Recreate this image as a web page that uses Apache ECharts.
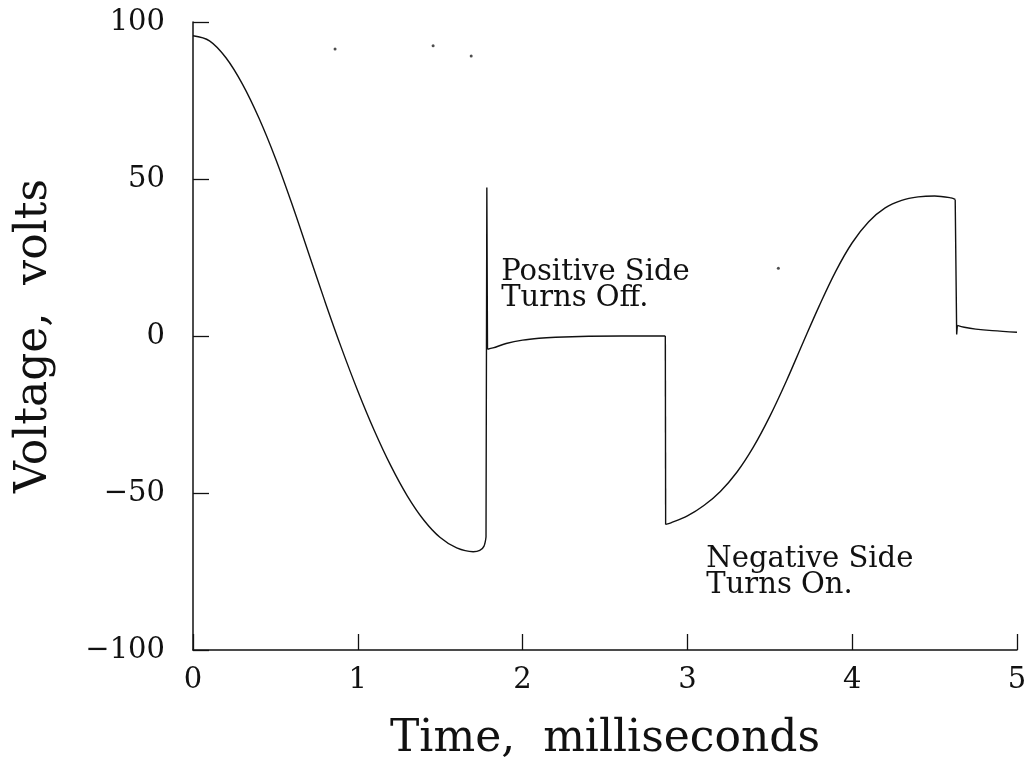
<!DOCTYPE html>
<html>
<head>
<meta charset="utf-8">
<script src="https://cdn.jsdelivr.net/npm/echarts@6/dist/echarts.min.js"></script>
<style>
html,body{margin:0;padding:0;background:#fff;}
#chart{width:1029px;height:760px;}
</style>
</head>
<body>
<div id="chart"></div>
<script>
// Smooth parts of the voltage trace (time in ms, voltage in V)
const curve1Time = [0, 0.1, 0.2, 0.3, 0.4, 0.5, 0.6, 0.7, 0.8, 0.9, 1.0, 1.1, 1.2, 1.3, 1.4, 1.5, 1.6, 1.7, 1.74, 1.765, 1.778];
const curve1Volt = [95.6, 94.0, 88.6, 80.2, 69.4, 56.6, 42.1, 26.6, 11.1, -3.7, -17.5, -30.1, -41.3, -50.9, -58.6, -64.2, -67.5, -68.7, -68.3, -67.0, -64.0];
const curve2Time = [1.787, 1.82, 1.9, 2.0, 2.1, 2.2, 2.4, 2.6, 2.866];
const curve2Volt = [-4.2, -3.8, -2.4, -1.3, -0.7, -0.4, -0.1, 0, 0];
const curve3Time = [2.868, 2.9, 3.0, 3.1, 3.2, 3.3, 3.4, 3.5, 3.6, 3.7, 3.8, 3.9, 4.0, 4.1, 4.2, 4.3, 4.4, 4.5, 4.6, 4.625];
const curve3Volt = [-60, -59.5, -57.3, -54.0, -49.5, -43.4, -35.4, -25.6, -14.4, -2.3, 9.6, 20.6, 29.7, 36.4, 40.8, 43.2, 44.3, 44.6, 44.0, 43.5];
const curve4Time = [4.638, 4.68, 4.75, 4.85, 5.0];
const curve4Volt = [3.4, 2.8, 2.2, 1.7, 1.2];

// Switching transients (vertical jumps)
const jump1Time = [1.778, 1.783, 1.787];
const jump1Volt = [-64, 47.3, -4.2];
const jump2Time = [2.866, 2.868];
const jump2Volt = [0, -60];
const jump3Time = [4.625, 4.634, 4.638];
const jump3Volt = [43.5, 0.5, 3.4];

// stray specks on the scanned figure
const speckTime = [0.862, 1.457, 1.688, 3.552];
const speckVolt = [91.4, 92.4, 89.2, 21.6];

const xTicks = [0, 1, 2, 3, 4, 5];
const yTicks = [-100, -50, 0, 50, 100];

const annotations = [
  { t: 1.87, v: 24.5, text: 'Positive Side\nTurns Off.' },
  { t: 3.115, v: -67.0, text: 'Negative Side\nTurns On.' }
];

const FONT = '"DejaVu Serif", "Liberation Serif", serif';
const INK = '#111';

const chart = echarts.init(document.getElementById('chart'), null, { renderer: 'canvas' });

const pairs = (ts, vs) => ts.map((t, i) => [t, vs[i]]);
const curveSeries = (ts, vs) => ({
  type: 'line', data: pairs(ts, vs), showSymbol: false, smooth: 0.35,
  lineStyle: { color: INK, width: 1.4 }, z: 3
});
const jumpSeries = (ts, vs) => ({
  type: 'line', data: pairs(ts, vs), showSymbol: false, smooth: false,
  lineStyle: { color: INK, width: 1.4 }, z: 3
});

chart.setOption({
  animation: false,
  backgroundColor: '#ffffff',
  grid: { left: 193, right: 12, top: 22, bottom: 110, containLabel: false, outerBoundsMode: 'none' },
  xAxis: {
    type: 'value', min: xTicks[0], max: xTicks[xTicks.length - 1], interval: 1,
    name: 'Time,  milliseconds', nameLocation: 'middle', nameGap: 68,
    nameTextStyle: { fontFamily: FONT, fontSize: 44, color: INK },
    axisLine: { onZero: false, lineStyle: { color: INK, width: 1.5 } },
    axisTick: { inside: true, length: 16, lineStyle: { color: INK, width: 1.3 } },
    axisLabel: { margin: 16, fontFamily: FONT, fontSize: 29, color: INK },
    splitLine: { show: false }
  },
  yAxis: {
    type: 'value', min: yTicks[0], max: yTicks[yTicks.length - 1], interval: 50,
    name: 'Voltage,  volts', nameLocation: 'middle', nameGap: 136, nameRotate: 90,
    nameTextStyle: { fontFamily: FONT, fontSize: 44, color: INK },
    axisLine: { onZero: false, lineStyle: { color: INK, width: 1.5 } },
    axisTick: { inside: true, length: 16, lineStyle: { color: INK, width: 1.3 } },
    axisLabel: { margin: 28, fontFamily: FONT, fontSize: 29, color: INK,
      formatter: v => (v < 0 ? '\u2212' + Math.abs(v) : String(v)) },
    splitLine: { show: false }
  },
  series: [
    curveSeries(curve1Time, curve1Volt),
    jumpSeries(jump1Time, jump1Volt),
    curveSeries(curve2Time, curve2Volt),
    jumpSeries(jump2Time, jump2Volt),
    curveSeries(curve3Time, curve3Volt),
    jumpSeries(jump3Time, jump3Volt),
    curveSeries(curve4Time, curve4Volt),
    {
      type: 'scatter', data: pairs(speckTime, speckVolt), symbolSize: 3,
      itemStyle: { color: '#222' }, z: 2
    }
  ]
});

const graphics = annotations.map(a => {
  const p = chart.convertToPixel({ gridIndex: 0 }, [a.t, a.v]);
  return {
    type: 'text', x: p[0], y: p[1],
    style: { text: a.text, font: '29px ' + FONT, fill: INK, lineHeight: 26,
      textAlign: 'left', textVerticalAlign: 'top' }
  };
});
chart.setOption({ graphic: graphics });
</script>
</body>
</html>
